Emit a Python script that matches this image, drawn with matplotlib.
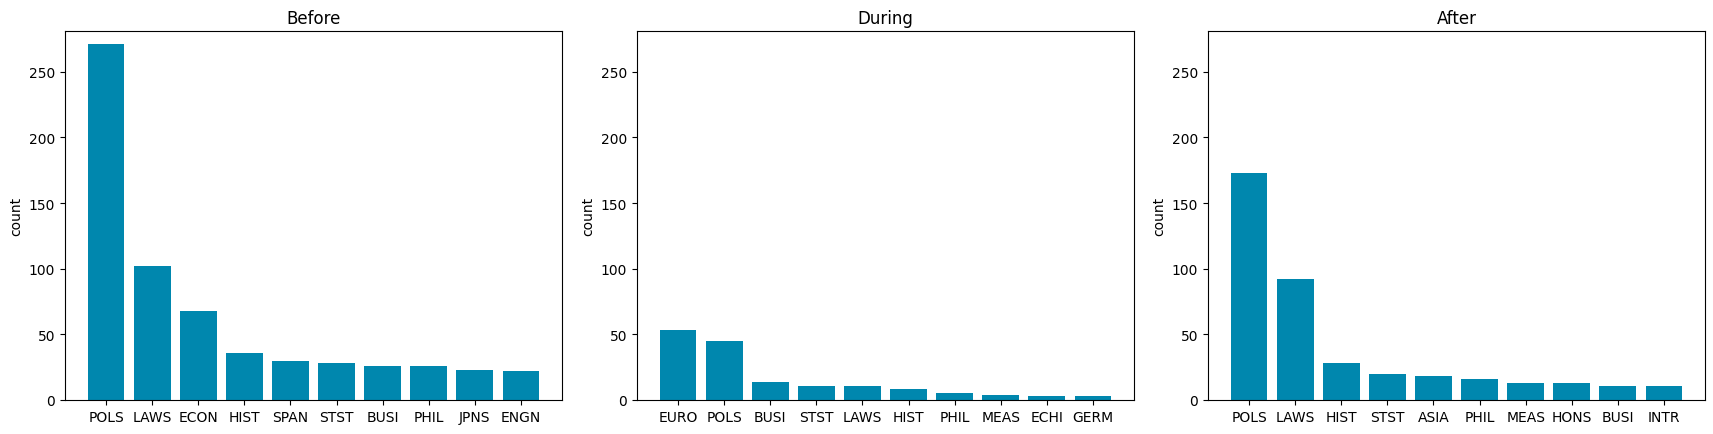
import matplotlib
matplotlib.use("Agg")
import matplotlib.pyplot as plt

titles = ["Before", "During", "After"]

before_labels = ["POLS", "LAWS", "ECON", "HIST", "SPAN", "STST", "BUSI", "PHIL", "JPNS", "ENGN"]
before_counts = [271, 102, 68, 36, 30, 28, 26, 26, 23, 22]

during_labels = ["EURO", "POLS", "BUSI", "STST", "LAWS", "HIST", "PHIL", "MEAS", "ECHI", "GERM"]
during_counts = [53, 45, 14, 11, 11, 8, 5, 4, 3, 3]

after_labels = ["POLS", "LAWS", "HIST", "STST", "ASIA", "PHIL", "MEAS", "HONS", "BUSI", "INTR"]
after_counts = [173, 92, 28, 20, 18, 16, 13, 13, 11, 11]

bar_color = "#0087ae"

fig = plt.figure(figsize=(17.13, 4.35), dpi=100)
W, H = 1713, 435
lefts = [65, 637, 1208]
ax_w = 497
top, bottom = 32, 401

data = [(before_labels, before_counts), (during_labels, during_counts), (after_labels, after_counts)]
for i, (labels, counts) in enumerate(data):
    ax = fig.add_axes([lefts[i] / W, (H - bottom) / H, ax_w / W, (bottom - top) / H])
    ax.bar(labels, counts, color=bar_color, width=0.8)
    ax.set_ylim(0, 281)
    ax.set_ylabel("count")
    ax.set_title(titles[i])

fig.savefig("out.png", dpi=100)
